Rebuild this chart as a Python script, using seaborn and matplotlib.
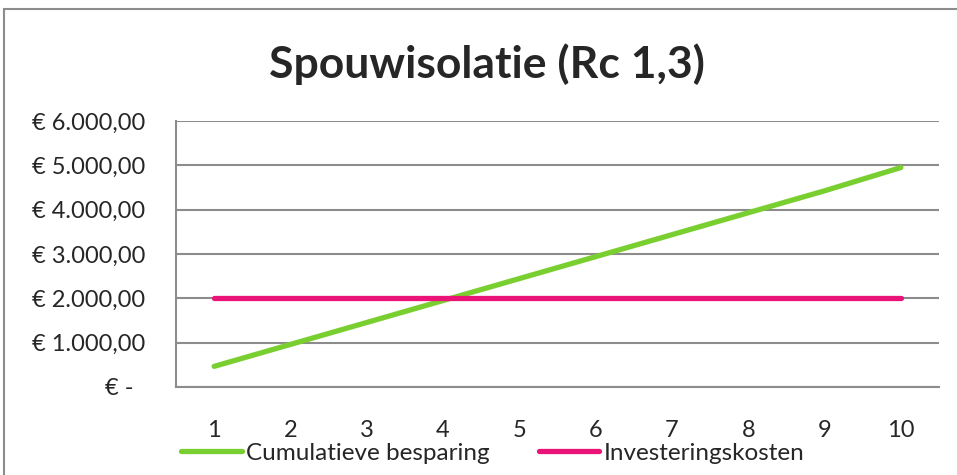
import pandas as pd
import matplotlib.pyplot as plt
import seaborn as sns
from matplotlib.patches import Rectangle

# data
years = [1, 2, 3, 4, 5, 6, 7, 8, 9, 10]
besparing = [465, 960, 1455, 1950, 2445, 2940, 3435, 3930, 4425, 4950]
investering = [2000, 2000, 2000, 2000, 2000, 2000, 2000, 2000, 2000, 2000]
y_ticks = [0, 1000, 2000, 3000, 4000, 5000, 6000]
y_labels = ["€ -  ", "€ 1.000,00", "€ 2.000,00", "€ 3.000,00",
            "€ 4.000,00", "€ 5.000,00", "€ 6.000,00"]
series_names = ["Cumulatieve besparing", "Investeringskosten"]

df = pd.DataFrame({
    "jaar": years * 2,
    "bedrag": besparing + investering,
    "reeks": [series_names[0]] * len(years) + [series_names[1]] * len(years),
})

sns.set_style("white")
plt.rcParams['font.family'] = ['Lato', 'DejaVu Sans']

fig = plt.figure(figsize=(9.57, 4.75), dpi=100)
ax = fig.add_axes([0.1839, 0.1853, 0.7973, 0.56])

palette = {series_names[0]: "#7ACF30", series_names[1]: "#EC1378"}
sns.lineplot(data=df, x="jaar", y="bedrag", hue="reeks", palette=palette,
             linewidth=3.8, ax=ax, legend=False, solid_capstyle="round")

ax.set_xlim(0.5, 10.5)
ax.set_ylim(0, 6000)
ax.set_xticks(years)
ax.set_xticklabels([str(y) for y in years], fontsize=17)
ax.set_yticks(y_ticks)
ax.set_yticklabels(y_labels, fontsize=17)
ax.tick_params(axis="y", length=0, pad=22)
ax.tick_params(axis="x", length=0, pad=24)
ax.set_xlabel("")
ax.set_ylabel("")

ax.grid(axis="y", color="#8C8C8C", linewidth=1.5)
ax.set_axisbelow(True)
for side in ["top", "right"]:
    ax.spines[side].set_visible(False)
for side in ["left", "bottom"]:
    ax.spines[side].set_color("#8C8C8C")
    ax.spines[side].set_linewidth(1.5)

fig.text(0.509, 0.865, "Spouwisolatie (Rc 1,3)", ha="center", va="center",
         fontsize=32, fontweight="bold")

handles = [plt.Line2D([], [], color=palette[n], linewidth=3.8, solid_capstyle="round")
           for n in series_names]
fig.legend(handles, series_names, loc="center", bbox_to_anchor=(0.515, 0.046),
           ncol=2, frameon=False, fontsize=17.5, handlelength=2.5,
           handletextpad=0.2, columnspacing=2.0)

# chart area border
fig.add_artist(Rectangle((4 / 957, -0.2), 1.2, 1.2 - 9 / 475, transform=fig.transFigure,
                         fill=False, edgecolor="#8C8C8C", linewidth=1.5))

fig.savefig("out.png", dpi=100)
